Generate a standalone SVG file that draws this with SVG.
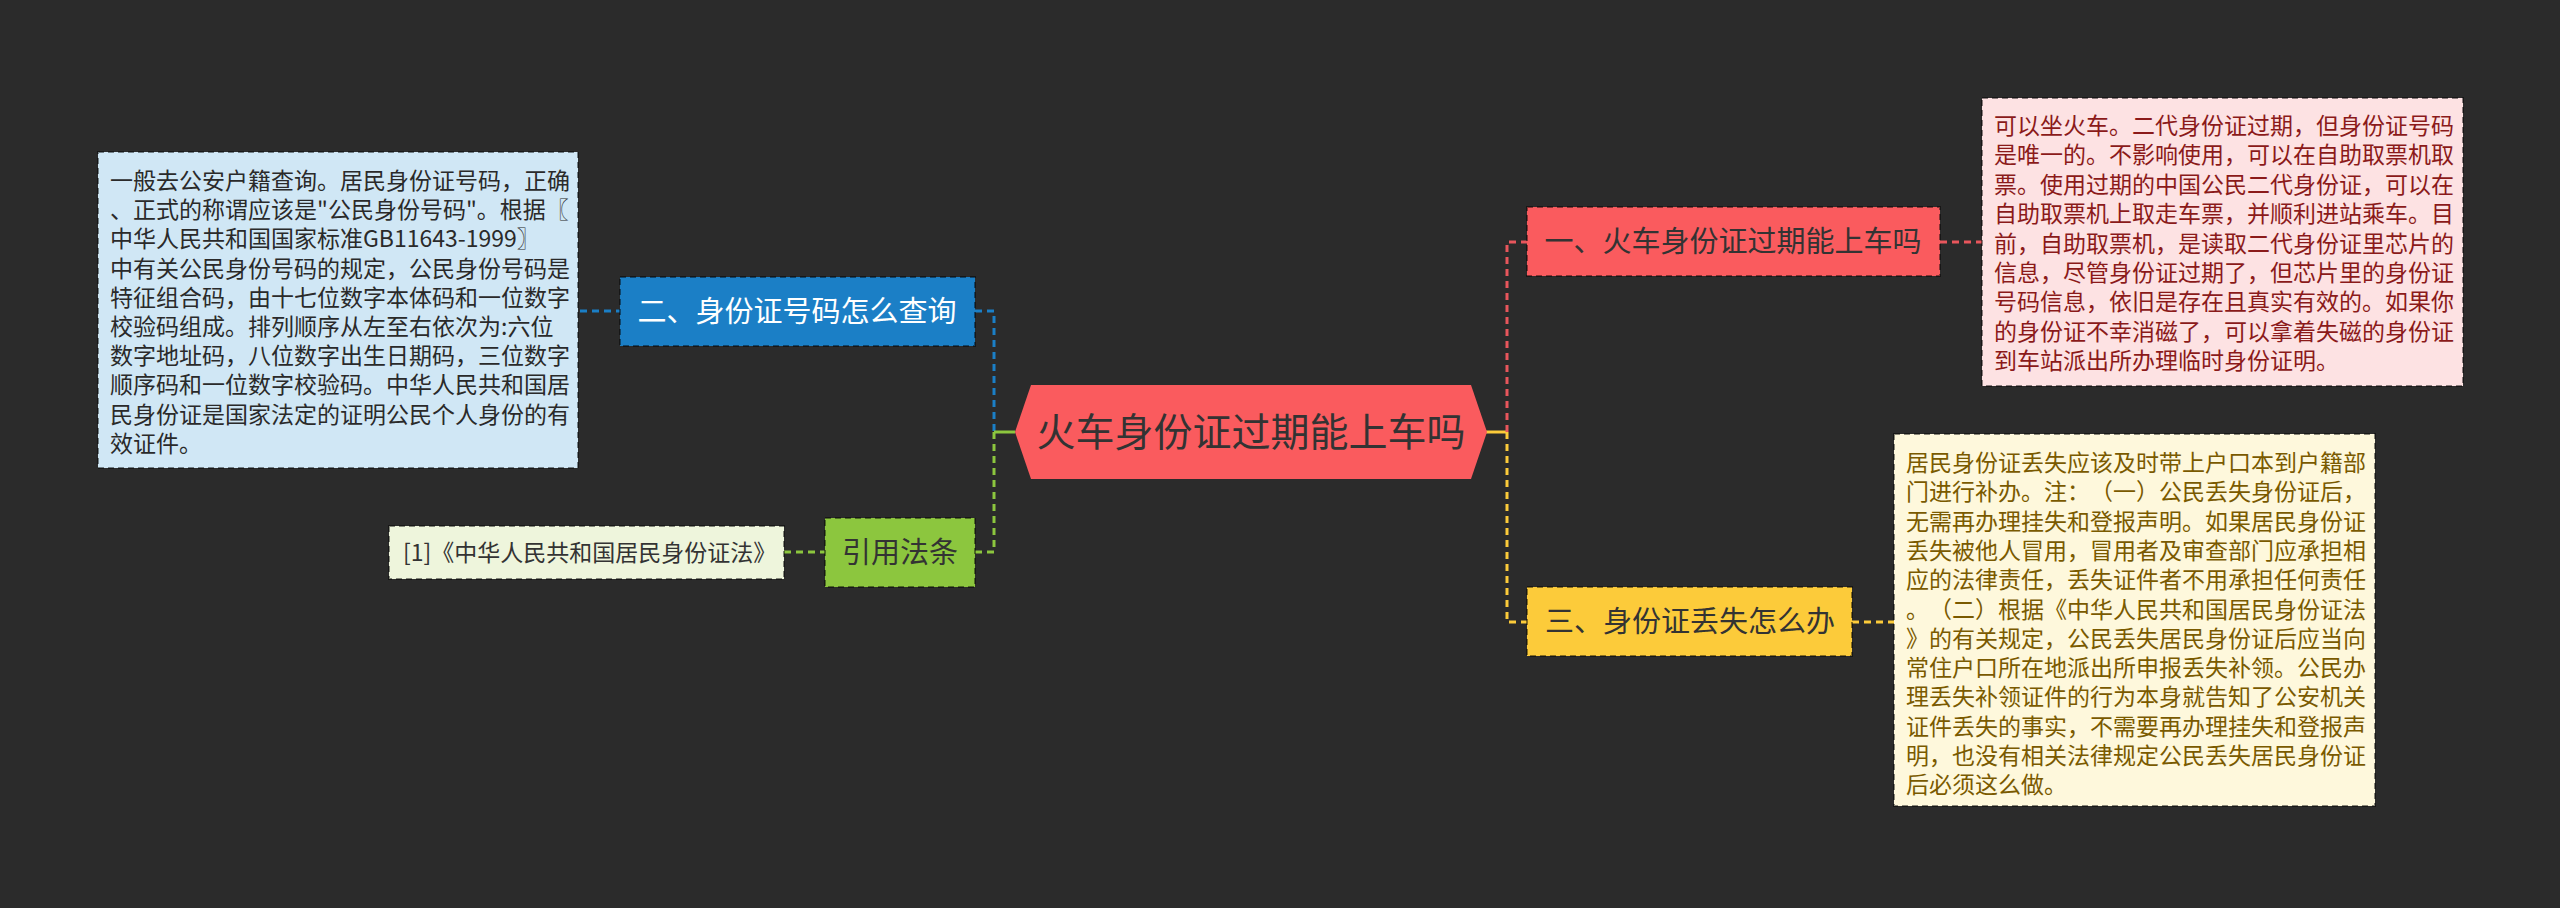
<svg xmlns="http://www.w3.org/2000/svg" width="2560" height="908" viewBox="0 0 2560 908">
<style>
text{font-family:"Noto Sans CJK SC","Noto Sans",sans-serif;text-spacing-trim:space-all}
.body{font-size:23px}
.title{font-size:29px;text-anchor:middle}
.conn{fill:none;stroke-width:3}
.dash{stroke-dasharray:7 5}
.nb{stroke:#000;stroke-opacity:0.45;stroke-width:2;stroke-dasharray:6 4}
</style>
<rect width="2560" height="908" fill="#2b2b2b"/>
<g id="connectors">
<path class="conn dash" d="M580 311H620" stroke="#1b7fc6"/>
<path class="conn dash" d="M975 311H994V432" stroke="#1b7fc6"/>
<path class="conn" d="M994 432H1015" stroke="#8cc63e"/>
<path class="conn dash" d="M994 432V552H975" stroke="#8cc63e"/>
<path class="conn dash" d="M784 552H825" stroke="#8cc63e"/>
<path class="conn" d="M1486 432H1507" stroke="#fccb3a"/>
<path class="conn dash" d="M1507 432V242H1527" stroke="#e8565c"/>
<path class="conn dash" d="M1507 432V622H1527" stroke="#fccb3a"/>
<path class="conn dash" d="M1940 242H1982" stroke="#e8565c"/>
<path class="conn dash" d="M1852 622H1894" stroke="#fccb3a"/>
</g>
<g id="center">
<polygon points="1015,432 1031,385 1471,385 1487,432 1471,479 1031,479" fill="#fa5b5e"/>
<text x="1251" y="446" font-size="39" text-anchor="middle" fill="#333">火车身份证过期能上车吗</text>
</g>
<g id="n1">
<rect x="1527" y="207" width="413" height="69" fill="#fa5b5e" class="nb"/>
<text class="title" x="1733" y="252" fill="#333">一、火车身份证过期能上车吗</text>
</g>
<g id="n1text">
<rect x="1982" y="98" width="481" height="288" fill="#fde2e3" class="nb"/>
<text class="body" fill="#8b1a1a">
<tspan x="1994" y="134">可以坐火车。二代身份证过期，但身份证号码</tspan>
<tspan x="1994" y="163.4">是唯一的。不影响使用，可以在自助取票机取</tspan>
<tspan x="1994" y="192.8">票。使用过期的中国公民二代身份证，可以在</tspan>
<tspan x="1994" y="222.2">自助取票机上取走车票，并顺利进站乘车。目</tspan>
<tspan x="1994" y="251.6">前，自助取票机，是读取二代身份证里芯片的</tspan>
<tspan x="1994" y="281">信息，尽管身份证过期了，但芯片里的身份证</tspan>
<tspan x="1994" y="310.4">号码信息，依旧是存在且真实有效的。如果你</tspan>
<tspan x="1994" y="339.8">的身份证不幸消磁了，可以拿着失磁的身份证</tspan>
<tspan x="1994" y="369.2">到车站派出所办理临时身份证明。</tspan>
</text>
</g>
<g id="n3">
<rect x="1527" y="587" width="325" height="69" fill="#fccb3a" class="nb"/>
<text class="title" x="1690" y="632" fill="#333">三、身份证丢失怎么办</text>
</g>
<g id="n3text">
<rect x="1894" y="434" width="481" height="372" fill="#fef8dc" class="nb"/>
<text class="body" fill="#7a5a00">
<tspan x="1906" y="471">居民身份证丢失应该及时带上户口本到户籍部</tspan>
<tspan x="1906" y="500.3">门进行补办。注：（一）公民丢失身份证后，</tspan>
<tspan x="1906" y="529.6">无需再办理挂失和登报声明。如果居民身份证</tspan>
<tspan x="1906" y="558.9">丢失被他人冒用，冒用者及审查部门应承担相</tspan>
<tspan x="1906" y="588.2">应的法律责任，丢失证件者不用承担任何责任</tspan>
<tspan x="1906" y="617.5">。（二）根据《中华人民共和国居民身份证法</tspan>
<tspan x="1906" y="646.8">》的有关规定，公民丢失居民身份证后应当向</tspan>
<tspan x="1906" y="676.1">常住户口所在地派出所申报丢失补领。公民办</tspan>
<tspan x="1906" y="705.4">理丢失补领证件的行为本身就告知了公安机关</tspan>
<tspan x="1906" y="734.7">证件丢失的事实，不需要再办理挂失和登报声</tspan>
<tspan x="1906" y="764">明，也没有相关法律规定公民丢失居民身份证</tspan>
<tspan x="1906" y="793.3">后必须这么做。</tspan>
</text>
</g>
<g id="n2">
<rect x="620" y="277" width="355" height="69" fill="#1b7fc6" class="nb"/>
<text class="title" x="797" y="322" fill="#ffffff">二、身份证号码怎么查询</text>
</g>
<g id="n2text">
<rect x="98" y="152" width="480" height="316" fill="#d0e7f5" class="nb"/>
<text class="body" fill="#2a2a2a">
<tspan x="110" y="189">一般去公安户籍查询。居民身份证号码，正确</tspan>
<tspan x="110" y="218.2">、正式的称谓应该是"公民身份号码"。根据〖</tspan>
<tspan x="110" y="247.4">中华人民共和国国家标准GB11643-1999〗</tspan>
<tspan x="110" y="276.6">中有关公民身份号码的规定，公民身份号码是</tspan>
<tspan x="110" y="305.8">特征组合码，由十七位数字本体码和一位数字</tspan>
<tspan x="110" y="335">校验码组成。排列顺序从左至右依次为:六位</tspan>
<tspan x="110" y="364.2">数字地址码，八位数字出生日期码，三位数字</tspan>
<tspan x="110" y="393.4">顺序码和一位数字校验码。中华人民共和国居</tspan>
<tspan x="110" y="422.6">民身份证是国家法定的证明公民个人身份的有</tspan>
<tspan x="110" y="451.8">效证件。</tspan>
</text>
</g>
<g id="n4">
<rect x="825" y="518" width="150" height="69" fill="#8cc63e" class="nb"/>
<text class="title" x="900" y="563" fill="#333">引用法条</text>
</g>
<g id="n4text">
<rect x="389" y="526" width="395" height="53" fill="#eef5dc" class="nb"/>
<text class="body" x="403" y="561" fill="#333">[1]《中华人民共和国居民身份证法》</text>
</g>
</svg>
